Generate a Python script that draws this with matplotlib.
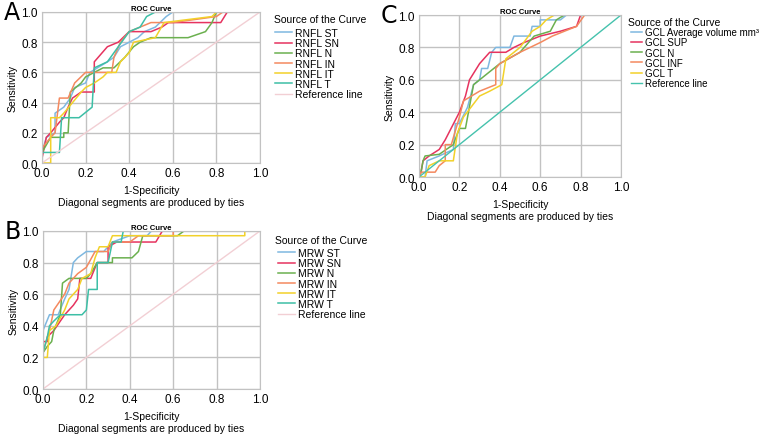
import matplotlib
matplotlib.use('Agg')
import matplotlib.pyplot as plt

plt.rcParams['font.family'] = ['Liberation Sans', 'DejaVu Sans']

# colours per curve (blue, red, green, orange, yellow, teal)
COLORS = ['#7fb8e0', '#e6335f', '#6bb04f', '#f4895f', '#f2d12a', '#3dbfa6']
REF_PINK = '#f2cfd4'
REF_TEAL = '#45c2ad'

# ---- panel A: RNFL ----
rnfl_labels = ['RNFL ST', 'RNFL SN', 'RNFL N', 'RNFL IN', 'RNFL IT', 'RNFL T']
rnfl_st_x = [0, 0, 0.02, 0.06, 0.06, 0.10, 0.13, 0.15, 0.20, 0.22, 0.30, 0.33, 0.36, 0.40, 0.44, 0.47, 0.52, 0.57, 0.60, 1]
rnfl_st_y = [0, 0.07, 0.17, 0.20, 0.33, 0.37, 0.43, 0.50, 0.53, 0.60, 0.67, 0.70, 0.77, 0.80, 0.83, 0.87, 0.90, 0.97, 1.0, 1]
rnfl_sn_x = [0, 0, 0.02, 0.04, 0.08, 0.10, 0.12, 0.14, 0.18, 0.24, 0.24, 0.30, 0.35, 0.40, 0.50, 0.55, 0.58, 0.82, 0.85, 1]
rnfl_sn_y = [0, 0.03, 0.17, 0.20, 0.27, 0.30, 0.37, 0.43, 0.47, 0.47, 0.67, 0.77, 0.80, 0.87, 0.87, 0.90, 0.93, 0.93, 1.0, 1]
rnfl_n_x = [0, 0, 0.04, 0.10, 0.10, 0.12, 0.13, 0.18, 0.20, 0.24, 0.28, 0.33, 0.38, 0.42, 0.45, 0.50, 0.67, 0.75, 0.78, 0.80, 1]
rnfl_n_y = [0, 0.07, 0.17, 0.17, 0.20, 0.20, 0.47, 0.53, 0.57, 0.60, 0.63, 0.63, 0.70, 0.77, 0.80, 0.83, 0.83, 0.87, 0.93, 1.0, 1]
rnfl_in_x = [0, 0, 0.04, 0.06, 0.08, 0.12, 0.15, 0.20, 0.32, 0.33, 0.36, 0.40, 0.45, 0.50, 0.60, 0.80, 0.83, 1]
rnfl_in_y = [0, 0.10, 0.17, 0.20, 0.43, 0.43, 0.53, 0.60, 0.60, 0.70, 0.80, 0.87, 0.90, 0.93, 0.93, 0.97, 1.0, 1]
rnfl_it_x = [0, 0.04, 0.04, 0.08, 0.10, 0.14, 0.18, 0.20, 0.24, 0.28, 0.30, 0.34, 0.36, 0.40, 0.42, 0.52, 0.56, 0.78, 0.80, 1]
rnfl_it_y = [0, 0, 0.30, 0.30, 0.33, 0.40, 0.47, 0.50, 0.53, 0.57, 0.60, 0.60, 0.67, 0.73, 0.80, 0.83, 0.93, 0.97, 1.0, 1]
rnfl_t_x = [0, 0, 0.08, 0.09, 0.17, 0.23, 0.24, 0.30, 0.35, 0.40, 0.45, 0.48, 0.52, 1]
rnfl_t_y = [0, 0.07, 0.07, 0.30, 0.30, 0.37, 0.63, 0.67, 0.77, 0.87, 0.90, 0.97, 1.0, 1]

# ---- panel B: MRW ----
mrw_labels = ['MRW ST', 'MRW SN', 'MRW N', 'MRW IN', 'MRW IT', 'MRW T']
mrw_st_x = [0, 0, 0.03, 0.07, 0.10, 0.12, 0.14, 0.16, 0.20, 0.28, 0.32, 0.40, 0.48, 0.50, 1]
mrw_st_y = [0, 0.37, 0.47, 0.47, 0.57, 0.63, 0.80, 0.83, 0.87, 0.87, 0.93, 0.97, 0.97, 1.0, 1]
mrw_sn_x = [0, 0, 0.02, 0.02, 0.05, 0.08, 0.10, 0.12, 0.14, 0.16, 0.17, 0.22, 0.25, 0.30, 0.30, 0.34, 0.52, 0.55, 1]
mrw_sn_y = [0, 0.30, 0.30, 0.33, 0.37, 0.43, 0.47, 0.50, 0.53, 0.57, 0.70, 0.70, 0.80, 0.80, 0.90, 0.93, 0.93, 1.0, 1]
mrw_n_x = [0, 0, 0.02, 0.04, 0.05, 0.08, 0.09, 0.12, 0.20, 0.22, 0.25, 0.32, 0.32, 0.41, 0.44, 0.46, 0.62, 0.65, 1]
mrw_n_y = [0, 0.23, 0.27, 0.30, 0.37, 0.47, 0.67, 0.70, 0.70, 0.73, 0.80, 0.80, 0.83, 0.83, 0.87, 0.97, 0.97, 1.0, 1]
mrw_in_x = [0, 0, 0.03, 0.05, 0.10, 0.12, 0.16, 0.20, 0.24, 0.30, 0.32, 0.40, 0.44, 0.60, 0.60, 1]
mrw_in_y = [0, 0.23, 0.37, 0.50, 0.60, 0.67, 0.73, 0.77, 0.87, 0.87, 0.93, 0.93, 0.97, 0.97, 1.0, 1]
mrw_it_x = [0, 0, 0.02, 0.03, 0.06, 0.10, 0.12, 0.16, 0.18, 0.22, 0.24, 0.26, 0.30, 0.32, 0.93, 0.93, 1]
mrw_it_y = [0, 0.20, 0.20, 0.37, 0.40, 0.50, 0.57, 0.63, 0.70, 0.73, 0.83, 0.90, 0.90, 0.97, 0.97, 1.0, 1]
mrw_t_x = [0, 0, 0.02, 0.03, 0.05, 0.08, 0.18, 0.20, 0.21, 0.25, 0.25, 0.30, 0.32, 0.36, 0.37, 1]
mrw_t_y = [0, 0.23, 0.33, 0.40, 0.43, 0.47, 0.47, 0.50, 0.63, 0.63, 0.80, 0.80, 0.93, 0.93, 1.0, 1]

# ---- panel C: GCL ----
gcl_labels = ['GCL Average volume mm\u00b3', 'GCL SUP', 'GCL N', 'GCL INF', 'GCL T']
gcl_avg_x = [0, 0.03, 0.04, 0.10, 0.17, 0.18, 0.20, 0.24, 0.27, 0.30, 0.31, 0.34, 0.36, 0.38, 0.45, 0.47, 0.55, 0.56, 0.60, 0.60, 0.70, 0.73, 1]
gcl_avg_y = [0, 0, 0.10, 0.13, 0.17, 0.33, 0.33, 0.43, 0.57, 0.60, 0.67, 0.67, 0.77, 0.80, 0.80, 0.87, 0.87, 0.93, 0.93, 0.97, 0.97, 1.0, 1]
gcl_sup_x = [0, 0.01, 0.02, 0.05, 0.10, 0.13, 0.20, 0.23, 0.25, 0.30, 0.35, 0.43, 0.47, 0.52, 0.60, 0.70, 0.78, 0.80, 1]
gcl_sup_y = [0, 0.03, 0.10, 0.13, 0.17, 0.23, 0.40, 0.50, 0.60, 0.70, 0.77, 0.77, 0.80, 0.83, 0.87, 0.90, 0.93, 1.0, 1]
gcl_n_x = [0, 0.01, 0.02, 0.03, 0.10, 0.17, 0.20, 0.23, 0.27, 0.40, 0.50, 0.57, 0.65, 0.68, 0.72, 1]
gcl_n_y = [0, 0.03, 0.10, 0.13, 0.14, 0.20, 0.30, 0.30, 0.57, 0.70, 0.77, 0.87, 0.90, 0.97, 1.0, 1]
gcl_inf_x = [0, 0.01, 0.08, 0.10, 0.13, 0.13, 0.16, 0.20, 0.22, 0.30, 0.38, 0.38, 0.40, 0.50, 0.60, 0.66, 0.78, 0.82, 1]
gcl_inf_y = [0, 0.03, 0.03, 0.07, 0.10, 0.20, 0.20, 0.37, 0.47, 0.53, 0.57, 0.67, 0.70, 0.77, 0.83, 0.87, 0.93, 1.0, 1]
gcl_t_x = [0, 0.03, 0.05, 0.10, 0.17, 0.19, 0.22, 0.30, 0.35, 0.41, 0.43, 0.50, 0.56, 0.60, 0.63, 0.67, 1]
gcl_t_y = [0, 0, 0.07, 0.10, 0.10, 0.27, 0.37, 0.50, 0.53, 0.57, 0.73, 0.80, 0.90, 0.93, 0.97, 1.0, 1]

ticks = [0.0, 0.2, 0.4, 0.6, 0.8, 1.0]

fig = plt.figure(figsize=(7.66, 4.39), dpi=100)


def roc_panel(rect, curves, labels, ref_color, letter, title_pos, leg_pos, letter_x,
              leg_fs=7.5, handle_len=1.6):
    ax = fig.add_axes(rect)
    for (x, y), lab, c in zip(curves, labels, COLORS):
        ax.plot(x, y, color=c, lw=1.1, label=lab)
    ax.plot([0, 1], [0, 1], color=ref_color, lw=1.0, label='Reference line')
    ax.set_xlim(0, 1)
    ax.set_ylim(0, 1)
    ax.set_xticks(ticks)
    ax.set_yticks(ticks)
    ax.set_xticklabels([f'{t:.1f}' for t in ticks])
    ax.set_yticklabels([f'{t:.1f}' for t in ticks])
    ax.tick_params(length=0, labelsize=8.5, pad=3)
    ax.grid(True, color='#c2c2c2', lw=1.0)
    ax.set_axisbelow(True)
    for s in ax.spines.values():
        s.set_color('#c2c2c2')
    ax.set_ylabel('Sensitivity', fontsize=7.5, labelpad=3)
    ax.set_xlabel('1-Specificity\nDiagonal segments are produced by ties',
                  fontsize=7.5, labelpad=4, linespacing=1.25)
    ax.text(0.5, 1.0, 'ROC Curve', transform=ax.transAxes, ha='center',
            va='bottom', fontsize=5.5, fontweight='bold')
    ax.text(letter_x, 1.0, letter, transform=ax.transAxes, ha='center', va='center',
            fontsize=17, family=['Liberation Sans Narrow', 'DejaVu Sans'])
    ax.text(title_pos[0], title_pos[1], 'Source of the Curve', transform=ax.transAxes,
            ha='left', va='center', fontsize=7.5)
    ax.legend(loc='upper left', bbox_to_anchor=leg_pos, frameon=False,
              fontsize=leg_fs, handlelength=handle_len, handletextpad=0.3,
              labelspacing=0.02, borderpad=0, borderaxespad=0)
    return ax


roc_panel([0.0548, 0.6264, 0.2846, 0.344],
          [(rnfl_st_x, rnfl_st_y), (rnfl_sn_x, rnfl_sn_y), (rnfl_n_x, rnfl_n_y),
           (rnfl_in_x, rnfl_in_y), (rnfl_it_x, rnfl_it_y), (rnfl_t_x, rnfl_t_y)],
          rnfl_labels, REF_PINK, 'A', (1.064, 0.954), (1.069, 0.894), -0.14)
roc_panel([0.0561, 0.1116, 0.2833, 0.36],
          [(mrw_st_x, mrw_st_y), (mrw_sn_x, mrw_sn_y), (mrw_n_x, mrw_n_y),
           (mrw_in_x, mrw_in_y), (mrw_it_x, mrw_it_y), (mrw_t_x, mrw_t_y)],
          mrw_labels, REF_PINK, 'B', (1.07, 0.943), (1.083, 0.892), -0.14)
roc_panel([0.547, 0.5945, 0.2637, 0.369],
          [(gcl_avg_x, gcl_avg_y), (gcl_sup_x, gcl_sup_y), (gcl_n_x, gcl_n_y),
           (gcl_inf_x, gcl_inf_y), (gcl_t_x, gcl_t_y)],
          gcl_labels, REF_TEAL, 'C', (1.035, 0.957), (1.05, 0.925), -0.15,
          leg_fs=7.0, handle_len=1.1)

fig.savefig('out.png', dpi=100)
